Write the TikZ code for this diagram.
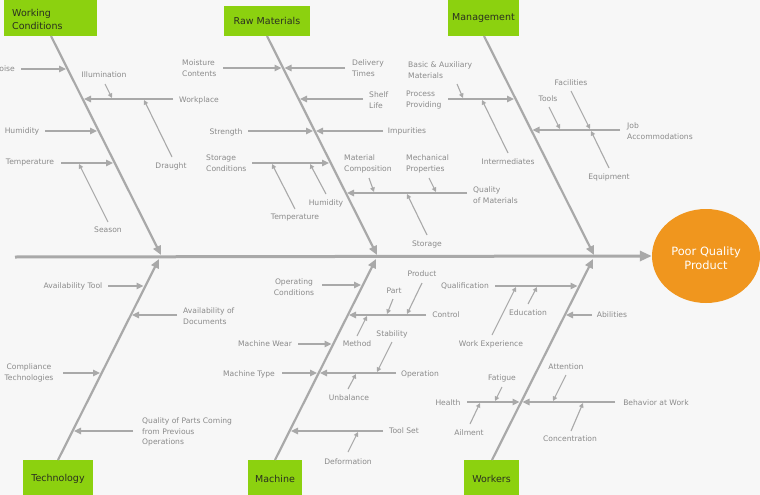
\documentclass[tikz,border=0pt]{standalone}
\usepackage{fontspec}
\setmainfont{DejaVu Sans}
\usetikzlibrary{arrows.meta,shapes.geometric}
\definecolor{bg}{HTML}{F7F7F7}
\definecolor{lngray}{HTML}{A9A9A9}
\definecolor{txtgray}{HTML}{8A8A8A}
\definecolor{catgreen}{HTML}{8CD10F}
\definecolor{cattext}{HTML}{2A2F20}
\definecolor{effect}{HTML}{F0961E}
\tikzset{
  lbl/.style={font=\fontsize{7.6}{10.5}\selectfont, text=txtgray, inner sep=0pt, align=left},
  lblc/.style={lbl, align=center},
  cat/.style={fill=catgreen, draw=none, text=cattext, font=\fontsize{9.5}{13}\selectfont, inner sep=0pt},
  spine/.style={draw=lngray, line width=3pt, -{Triangle[length=12pt,width=10pt]}},
  bone/.style={draw=lngray, line width=2.2pt, -{Triangle[length=9pt,width=8pt]}},
  br/.style={draw=lngray, line width=1.4pt, -{Triangle[length=7pt,width=6.5pt]}},
  sb/.style={draw=lngray, line width=1.1pt, -{Triangle[length=4.5pt,width=4.5pt]}},
  brline/.style={draw=lngray, line width=1.4pt}
}
\begin{document}
\begin{tikzpicture}[x=1pt,y=-1pt]
\useasboundingbox (0,0) rectangle (760,495);
\fill[bg] (0,0) rectangle (760,495);

% effect
\node[ellipse, fill=effect, minimum width=108pt, minimum height=94pt, inner sep=0pt] (effect) at (706,256) {};
\node[text=white, font=\fontsize{11.4}{14}\selectfont, align=center, inner sep=0pt] (effectlbl) at (706,258) {Poor Quality\\Product};

% category boxes
\path[cat] (4,-10) rectangle (97,36);
\node[cat, fill=none, align=left, anchor=west] (wc) at (12,19.5) {Working\\Conditions};
\path[cat] (224,6) rectangle (310,36);
\node[cat, fill=none] (rm) at (267,21) {Raw Materials};
\path[cat] (448,-10) rectangle (519,36);
\node[cat, fill=none] (mg) at (483.5,18.5) {Management};
\path[cat] (23,460) rectangle (93,505);
\node[cat, fill=none] (tech) at (58,479) {Technology};
\path[cat] (248,460) rectangle (302,505);
\node[cat, fill=none] (mach) at (275,479) {Machine};
\path[cat] (464,460) rectangle (519,505);
\node[cat, fill=none] (work) at (491.5,479) {Workers};

% spine
\coordinate (sp0) at (15,257);
\draw[spine] (sp0) -- (effect.west);

% bones
\coordinate (wcA) at (51,36);   \coordinate (wcB) at (161,255);
\coordinate (rmA) at (267,36);  \coordinate (rmB) at (377,255);
\coordinate (mgA) at (484,36);  \coordinate (mgB) at (594,255);
\coordinate (teA) at (58,460);  \coordinate (teB) at (159,259);
\coordinate (maA) at (275,460); \coordinate (maB) at (376,259);
\coordinate (woA) at (492,460); \coordinate (woB) at (593,259);
\draw[bone] (wcA) -- (wcB);
\draw[bone] (rmA) -- (rmB);
\draw[bone] (mgA) -- (mgB);
\draw[bone] (teA) -- (teB);
\draw[bone] (maA) -- (maB);
\draw[bone] (woA) -- (woB);

% ===== Working Conditions =====
\node[lbl, anchor=east] (noise) at (15,69) {Noise};
\draw[br] (21,69) coordinate (noiseS) -- (66,69) coordinate (noiseE);
\node[lbl, anchor=west] (workplace) at (179,100) {Workplace};
\draw[br] (173,99) coordinate (wpS) -- (84,99) coordinate (wpE);
\node[lbl] (illum) at (104,75) {Illumination};
\draw[sb] (105,84) coordinate (illS) -- (112,98) coordinate (illE);
\node[lbl] (draught) at (171,166) {Draught};
\draw[sb] (172,157) coordinate (drS) -- (144,100) coordinate (drE);
\node[lbl] (hum1) at (22,131) {Humidity};
\draw[br] (45,131) coordinate (hum1S) -- (97,131) coordinate (hum1E);
\node[lbl] (temp1) at (30,163) {Temperature};
\draw[br] (61,163) coordinate (temp1S) -- (113,163) coordinate (temp1E);
\node[lbl] (season) at (108,230) {Season};
\draw[sb] (108,222) coordinate (seaS) -- (79,164) coordinate (seaE);

% ===== Raw Materials =====
\node[lbl, anchor=west] (moist) at (182,68) {Moisture\\Contents};
\draw[br] (223,68) coordinate (moistS) -- (281.5,68) coordinate (moistE);
\node[lbl, anchor=west] (deliv) at (352,68) {Delivery\\Times};
\draw[br] (345,68) coordinate (delS) -- (284.5,68) coordinate (delE);
\node[lbl, anchor=west] (shelf) at (369,100) {Shelf\\Life};
\draw[br] (363,99) coordinate (shS) -- (300,99) coordinate (shE);
\node[lbl] (strength) at (226,132) {Strength};
\draw[br] (248,131) coordinate (stS) -- (313,131) coordinate (stE);
\node[lbl] (impur) at (407,131) {Impurities};
\draw[br] (383,131) coordinate (imS) -- (316,131) coordinate (imE);
\node[lbl, anchor=west] (storcond) at (206,163) {Storage\\Conditions};
\draw[br] (252,163) coordinate (scS) -- (329,163) coordinate (scE);
\node[lbl] (temp2) at (295,218) {Temperature};
\draw[sb] (295,209) coordinate (t2S) -- (272,164) coordinate (t2E);
\node[lbl] (hum2) at (326,203) {Humidity};
\draw[sb] (326,194) coordinate (h2S) -- (310,164) coordinate (h2E);
\node[lbl, anchor=west] (qmat) at (473,195) {Quality\\of Materials};
\draw[br] (467,193) coordinate (qmS) -- (347,193) coordinate (qmE);
\node[lbl, anchor=west] (matcomp) at (344,164) {Material\\Composition};
\draw[sb] (369,178) coordinate (mcS) -- (374,192) coordinate (mcE);
\node[lbl, anchor=west] (mechprop) at (406,164) {Mechanical\\Properties};
\draw[sb] (429,178) coordinate (mpS) -- (436,192) coordinate (mpE);
\node[lbl] (storage) at (427,244) {Storage};
\draw[sb] (427,235) coordinate (stoS) -- (407,194) coordinate (stoE);

% ===== Management =====
\node[lbl, anchor=west] (basic) at (408,70) {Basic \& Auxiliary\\Materials};
\draw[sb] (457,84) coordinate (baS) -- (463,98) coordinate (baE);
\node[lbl, anchor=west] (process) at (406,100) {Process\\Providing};
\draw[br] (448,99) coordinate (prS) -- (514,99) coordinate (prE);
\node[lbl] (interm) at (508,162) {Intermediates};
\draw[sb] (508,153) coordinate (inS) -- (482,100) coordinate (inE);
\node[lbl, anchor=west] (jobacc) at (627,131) {Job\\Accommodations};
\draw[br] (620,130) coordinate (jaS) -- (532.5,130) coordinate (jaE);
\node[lbl] (tools) at (548,99) {Tools};
\draw[sb] (549,107) coordinate (toS) -- (560,129) coordinate (toE);
\node[lbl] (facil) at (571,83) {Facilities};
\draw[sb] (571,91) coordinate (faS) -- (590,129) coordinate (faE);
\node[lbl] (equip) at (609,177) {Equipment};
\draw[sb] (609,168) coordinate (eqS) -- (591,131) coordinate (eqE);

% ===== Technology =====
\node[lbl] (avtool) at (73,286) {Availability Tool};
\draw[br] (108,286) coordinate (atS) -- (143.5,286) coordinate (atE);
\node[lbl, anchor=west] (avdoc) at (183,316) {Availability of\\Documents};
\draw[br] (177,315) coordinate (adS) -- (132,315) coordinate (adE);
\node[lblc] (compl) at (29,373) {Compliance\\Technologies};
\draw[br] (63,373) coordinate (coS) -- (100,373) coordinate (coE);
\node[lbl, anchor=west] (qparts) at (142,432) {Quality of Parts Coming\\from Previous\\Operations};
\draw[br] (133,431) coordinate (qpS) -- (74,431) coordinate (qpE);

% ===== Machine =====
\node[lblc] (opcond) at (294,287) {Operating\\Conditions};
\draw[br] (322,285) coordinate (ocS) -- (361,285) coordinate (ocE);
\node[lbl] (control) at (446,315) {Control};
\draw[br] (426,315) coordinate (ctS) -- (349,315) coordinate (ctE);
\node[lbl] (product) at (422,274) {Product};
\draw[sb] (422,283) coordinate (pdS) -- (407,314) coordinate (pdE);
\node[lbl] (part) at (394,291) {Part};
\draw[sb] (393,299) coordinate (paS) -- (387,314) coordinate (paE);
\node[lbl] (method) at (357,344) {Method};
\draw[sb] (357,336) coordinate (meS) -- (367,316) coordinate (meE);
\node[lbl] (mwear) at (265,344) {Machine Wear};
\draw[br] (298,344) coordinate (mwS) -- (331.5,344) coordinate (mwE);
\node[lbl] (operation) at (420,374) {Operation};
\draw[br] (396,373) coordinate (opS) -- (320,373) coordinate (opE);
\node[lbl] (mtype) at (249,374) {Machine Type};
\draw[br] (282,373) coordinate (mtS) -- (317,373) coordinate (mtE);
\node[lbl] (stab) at (392,334) {Stability};
\draw[sb] (392,342) coordinate (sbS) -- (377,372) coordinate (sbE);
\node[lbl] (unbal) at (349,398) {Unbalance};
\draw[sb] (348,389) coordinate (ubS) -- (356,374) coordinate (ubE);
\node[lbl] (toolset) at (404,431) {Tool Set};
\draw[br] (383,431) coordinate (tsS) -- (291,431) coordinate (tsE);
\node[lbl] (deform) at (348,462) {Deformation};
\draw[sb] (348,452) coordinate (dfS) -- (358,432) coordinate (dfE);

% ===== Workers =====
\node[lbl] (qualif) at (465,286) {Qualification};
\draw[br] (495,286) coordinate (quS) -- (577.5,286) coordinate (quE);
\node[lbl] (workexp) at (491,344) {Work Experience};
\draw[sb] (492,335) coordinate (weS) -- (516,287) coordinate (weE);
\node[lbl] (educ) at (528,313) {Education};
\draw[sb] (528,304) coordinate (edS) -- (537,287) coordinate (edE);
\node[lbl] (abil) at (612,315) {Abilities};
\draw[br] (592,315) coordinate (abS) -- (566,315) coordinate (abE);
\node[lbl] (health) at (448,403) {Health};
\draw[br] (467,402) coordinate (heS) -- (519.5,402) coordinate (heE);
\node[lbl] (behav) at (656,403) {Behavior at Work};
\draw[br] (615,402) coordinate (bhS) -- (522.5,402) coordinate (bhE);
\node[lbl] (fatig) at (502,378) {Fatigue};
\draw[sb] (502,387) coordinate (fgS) -- (495,401) coordinate (fgE);
\node[lbl] (ailm) at (469,433) {Ailment};
\draw[sb] (470,424) coordinate (alS) -- (480,403) coordinate (alE);
\node[lbl] (atten) at (566,367) {Attention};
\draw[sb] (566,375) coordinate (anS) -- (553,401) coordinate (anE);
\node[lbl] (concen) at (570,439) {Concentration};
\draw[sb] (571,431) coordinate (cnS) -- (583,403) coordinate (cnE);
\end{tikzpicture}
\end{document}
